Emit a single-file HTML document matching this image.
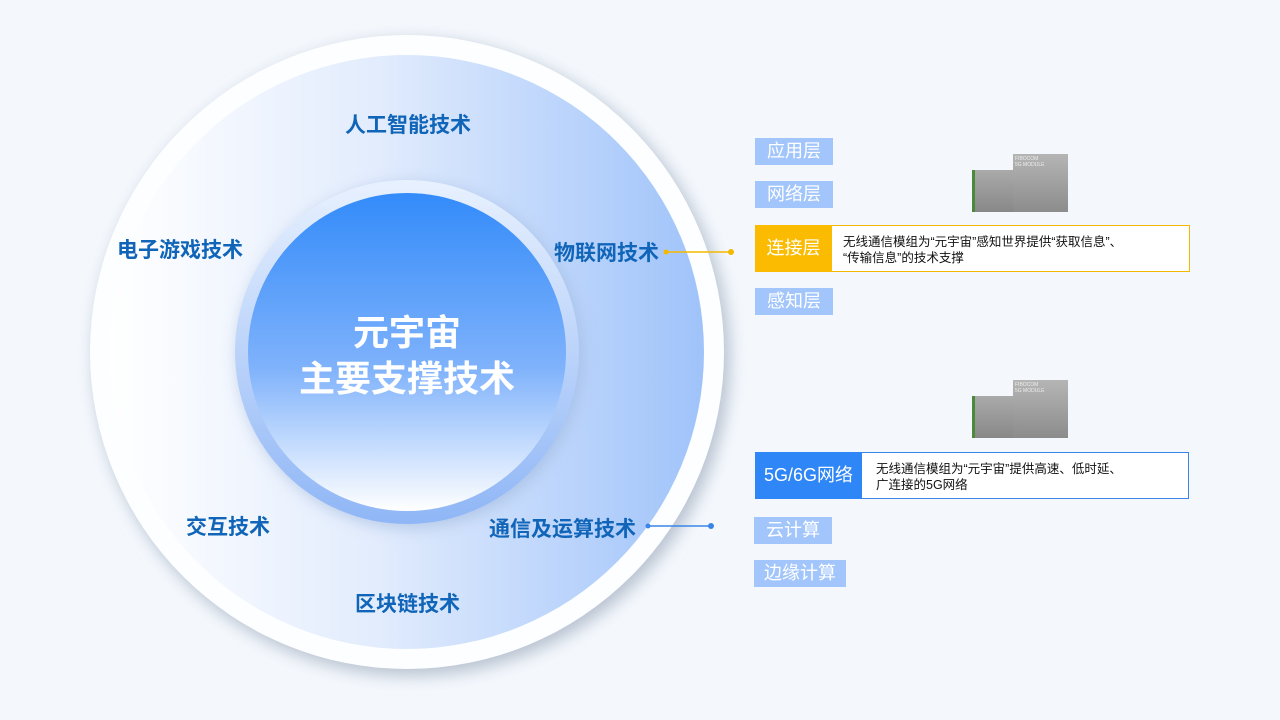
<!DOCTYPE html>
<html><head><meta charset="utf-8"><style>
body{margin:0;width:1280px;height:720px;background:#f4f8fd;position:relative;overflow:hidden;font-family:"Liberation Sans","Noto Sans CJK SC",sans-serif}
.t{position:absolute;font-weight:bold;color:#1065b8;font-size:21px;white-space:nowrap}
.tag{position:absolute;background:#a2c6fb;color:#fff;font-size:18px;height:27px;line-height:27px;width:78px;text-align:center;white-space:nowrap}
.box{position:absolute;background:#fff;font-size:12.5px;color:#111;line-height:16px}
.mod{position:absolute}
</style></head><body>
<svg width="1280" height="720" style="position:absolute;left:0;top:0">
<defs>
<filter id="sh" x="-20%" y="-20%" width="140%" height="140%"><feGaussianBlur stdDeviation="8"/></filter>
<linearGradient id="g1" x1="0" y1="0" x2="1" y2="0"><stop offset="0" stop-color="#ffffff"/><stop offset="0.45" stop-color="#e2ecfd"/><stop offset="1" stop-color="#9fc3fa"/></linearGradient>
<linearGradient id="g2" x1="0" y1="0" x2="0" y2="1"><stop offset="0" stop-color="#338bfa"/><stop offset="0.55" stop-color="#7fb2fb"/><stop offset="1" stop-color="#ffffff"/></linearGradient>
<linearGradient id="g3" x1="0" y1="0" x2="0" y2="1"><stop offset="0" stop-color="#e8f1fe"/><stop offset="1" stop-color="#8fb6f6"/></linearGradient>
</defs>
<circle cx="412" cy="358" r="318" fill="#b8c2d0" filter="url(#sh)"/>
<circle cx="407" cy="352" r="317" fill="#fdfeff"/>
<circle cx="407" cy="352" r="297" fill="url(#g1)"/>
<circle cx="410" cy="356" r="172" fill="#9ab3d8" filter="url(#sh)" opacity="0.6"/>
<circle cx="407" cy="352" r="172" fill="url(#g3)"/>
<circle cx="407" cy="352" r="159" fill="url(#g2)"/>
<line x1="666" y1="252" x2="731" y2="252" stroke="#f5b800" stroke-width="1.5"/>
<circle cx="666" cy="252" r="2.5" fill="#f5b800"/><circle cx="731" cy="252" r="3" fill="#f5b800"/>
<line x1="648" y1="526" x2="711" y2="526" stroke="#3a86e8" stroke-width="1.5"/>
<circle cx="648" cy="526" r="2.5" fill="#3a86e8"/><circle cx="711" cy="526" r="3" fill="#3a86e8"/>
</svg>
<div class="t" style="left:345px;top:109px">人工智能技术</div>
<div class="t" style="left:117px;top:234px">电子游戏技术</div>
<div class="t" style="left:554px;top:237px">物联网技术</div>
<div class="t" style="left:186px;top:511px">交互技术</div>
<div class="t" style="left:489px;top:513px">通信及运算技术</div>
<div class="t" style="left:355px;top:588px">区块链技术</div>
<div style="position:absolute;left:227px;top:310px;width:360px;text-align:center;color:#fff;font-weight:bold;font-size:36px;line-height:46px">元宇宙<br>主要支撑技术</div>

<div class="tag" style="left:755px;top:138px">应用层</div>
<div class="tag" style="left:755px;top:181px">网络层</div>
<div class="tag" style="left:755px;top:288px">感知层</div>
<div style="position:absolute;left:755px;top:225px;width:433px;height:45px;border:1px solid #f5b800;background:#fff"></div>
<div style="position:absolute;left:755px;top:225px;width:77px;height:47px;background:#fbbb00;color:#fff;font-size:18px;line-height:47px;text-align:center">连接层</div>
<div class="box" style="left:843px;top:234px">无线通信模组为“元宇宙”感知世界提供“获取信息”、<br>“传输信息”的技术支撑</div>

<div style="position:absolute;left:755px;top:452px;width:432px;height:45px;border:1px solid #3a86e8;background:#fff"></div>
<div style="position:absolute;left:755px;top:452px;width:107px;height:47px;background:#2f86f6;color:#fff;font-size:18px;line-height:47px;text-align:center">5G/6G网络</div>
<div class="box" style="left:876px;top:461px">无线通信模组为“元宇宙”提供高速、低时延、<br>广连接的5G网络</div>
<div class="tag" style="left:754px;top:517px">云计算</div>
<div class="tag" style="left:754px;top:560px;width:92px">边缘计算</div>

<div class="mod" style="left:972px;top:170px;width:44px;height:42px;background:linear-gradient(#aaa,#888);border-left:3px solid #4a8a3a"></div>
<div class="mod" style="left:1013px;top:154px;width:55px;height:58px;background:linear-gradient(#b5b5b5,#8c8c8c);color:#eee;font-size:5px;padding:2px;box-sizing:border-box">FIBOCOM<br>5G MODULE</div>
<div class="mod" style="left:972px;top:396px;width:44px;height:42px;background:linear-gradient(#aaa,#888);border-left:3px solid #4a8a3a"></div>
<div class="mod" style="left:1013px;top:380px;width:55px;height:58px;background:linear-gradient(#b5b5b5,#8c8c8c);color:#eee;font-size:5px;padding:2px;box-sizing:border-box">FIBOCOM<br>5G MODULE</div>
</body></html>
